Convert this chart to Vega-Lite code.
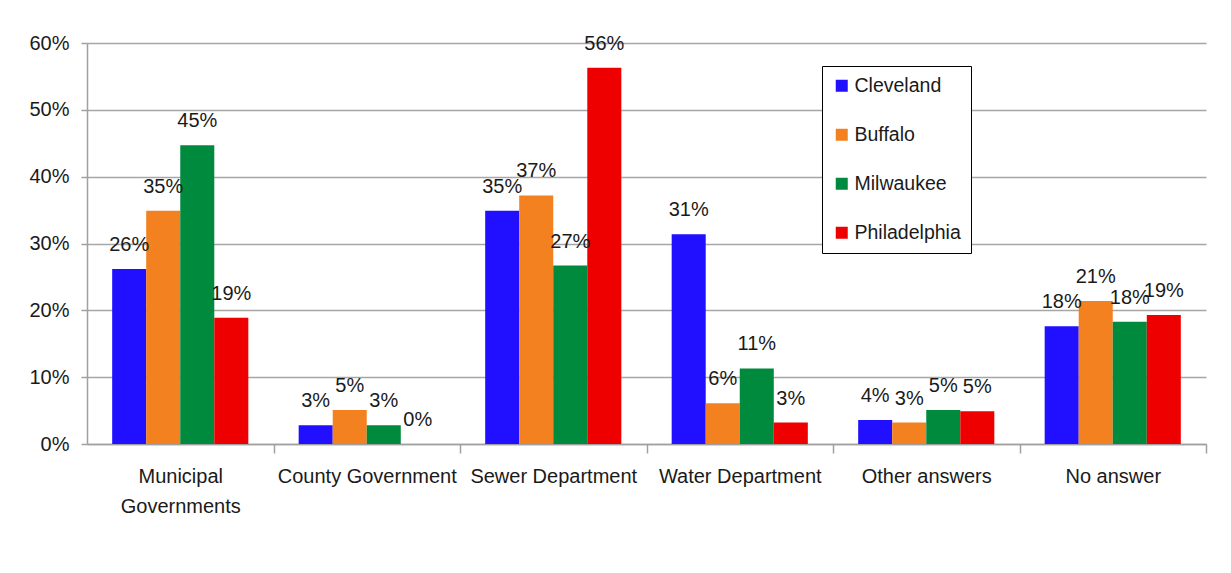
{
  "$schema": "https://vega.github.io/schema/vega-lite/v6.json",
  "width": 1119,
  "height": 401,
  "autosize": "none",
  "padding": {"left": 87, "top": 43, "right": 25, "bottom": 129},
  "background": "white",
  "config": {
    "font": "Liberation Sans",
    "view": {"stroke": null},
    "axis": {"labelFont": "Liberation Sans", "labelFontSize": 20, "labelColor": "#1a1a1a", "domainColor": "#a0a0a0", "tickColor": "#a0a0a0", "gridColor": "#a6a6a6", "domainWidth": 1.5, "tickWidth": 1.5, "gridWidth": 1.3, "title": null}
  },
  "data": {
    "values": [
      {"category": "Municipal Governments", "city": "Cleveland", "value": 0.262},
      {"category": "Municipal Governments", "city": "Buffalo", "value": 0.349},
      {"category": "Municipal Governments", "city": "Milwaukee", "value": 0.447},
      {"category": "Municipal Governments", "city": "Philadelphia", "value": 0.189},
      {"category": "County Government", "city": "Cleveland", "value": 0.028},
      {"category": "County Government", "city": "Buffalo", "value": 0.051},
      {"category": "County Government", "city": "Milwaukee", "value": 0.028},
      {"category": "County Government", "city": "Philadelphia", "value": 0.0},
      {"category": "Sewer Department", "city": "Cleveland", "value": 0.349},
      {"category": "Sewer Department", "city": "Buffalo", "value": 0.372},
      {"category": "Sewer Department", "city": "Milwaukee", "value": 0.267},
      {"category": "Sewer Department", "city": "Philadelphia", "value": 0.563},
      {"category": "Water Department", "city": "Cleveland", "value": 0.314},
      {"category": "Water Department", "city": "Buffalo", "value": 0.061},
      {"category": "Water Department", "city": "Milwaukee", "value": 0.113},
      {"category": "Water Department", "city": "Philadelphia", "value": 0.032},
      {"category": "Other answers", "city": "Cleveland", "value": 0.036},
      {"category": "Other answers", "city": "Buffalo", "value": 0.032},
      {"category": "Other answers", "city": "Milwaukee", "value": 0.051},
      {"category": "Other answers", "city": "Philadelphia", "value": 0.049},
      {"category": "No answer", "city": "Cleveland", "value": 0.176},
      {"category": "No answer", "city": "Buffalo", "value": 0.214},
      {"category": "No answer", "city": "Milwaukee", "value": 0.183},
      {"category": "No answer", "city": "Philadelphia", "value": 0.193}
    ]
  },
  "encoding": {
    "x": {
      "field": "category", "type": "nominal",
      "sort": ["Municipal Governments", "County Government", "Sewer Department", "Water Department", "Other answers", "No answer"],
      "scale": {"paddingInner": 0.27, "paddingOuter": 0.135},
      "axis": {"labelAngle": 0, "tickOffset": 93.25, "labelOffset": -93.25, "tickSize": 9, "labelPadding": 13, "labelLineHeight": 30,
        "labelExpr": "datum.label == 'Municipal Governments' ? ['Municipal', 'Governments'] : datum.label"}
    },
    "xOffset": {"field": "city", "type": "nominal", "sort": ["Cleveland", "Buffalo", "Milwaukee", "Philadelphia"]},
    "y": {
      "field": "value", "type": "quantitative",
      "scale": {"domain": [0, 0.6], "nice": false},
      "axis": {"values": [0, 0.1, 0.2, 0.3, 0.4, 0.5, 0.6], "format": ".0%", "tickSize": 6, "labelPadding": 12, "domain": true}
    }
  },
  "layer": [
    {
      "mark": {"type": "bar"},
      "encoding": {
        "color": {
          "field": "city", "type": "nominal",
          "sort": ["Cleveland", "Buffalo", "Milwaukee", "Philadelphia"],
          "scale": {"domain": ["Cleveland", "Buffalo", "Milwaukee", "Philadelphia"], "range": ["#2010FF", "#F4811F", "#008A3E", "#EE0000"]},
          "legend": {
            "title": null, "orient": "none", "legendX": 735, "legendY": 23,
            "strokeColor": "#000000", "fillColor": "#ffffff", "padding": 10,
            "symbolType": "square", "symbolSize": 144, "symbolStrokeWidth": 0,
            "labelFont": "Liberation Sans", "labelFontSize": 19.5, "labelColor": "#1a1a1a",
            "rowPadding": 28, "labelOffset": 3
          }
        }
      }
    },
    {
      "mark": {"type": "text", "dy": -18, "baseline": "alphabetic", "align": "center", "fontSize": 20, "font": "Liberation Sans", "color": "#1a1a1a"},
      "encoding": {
        "text": {"field": "value", "type": "quantitative", "format": ".0%"}
      }
    }
  ]
}
